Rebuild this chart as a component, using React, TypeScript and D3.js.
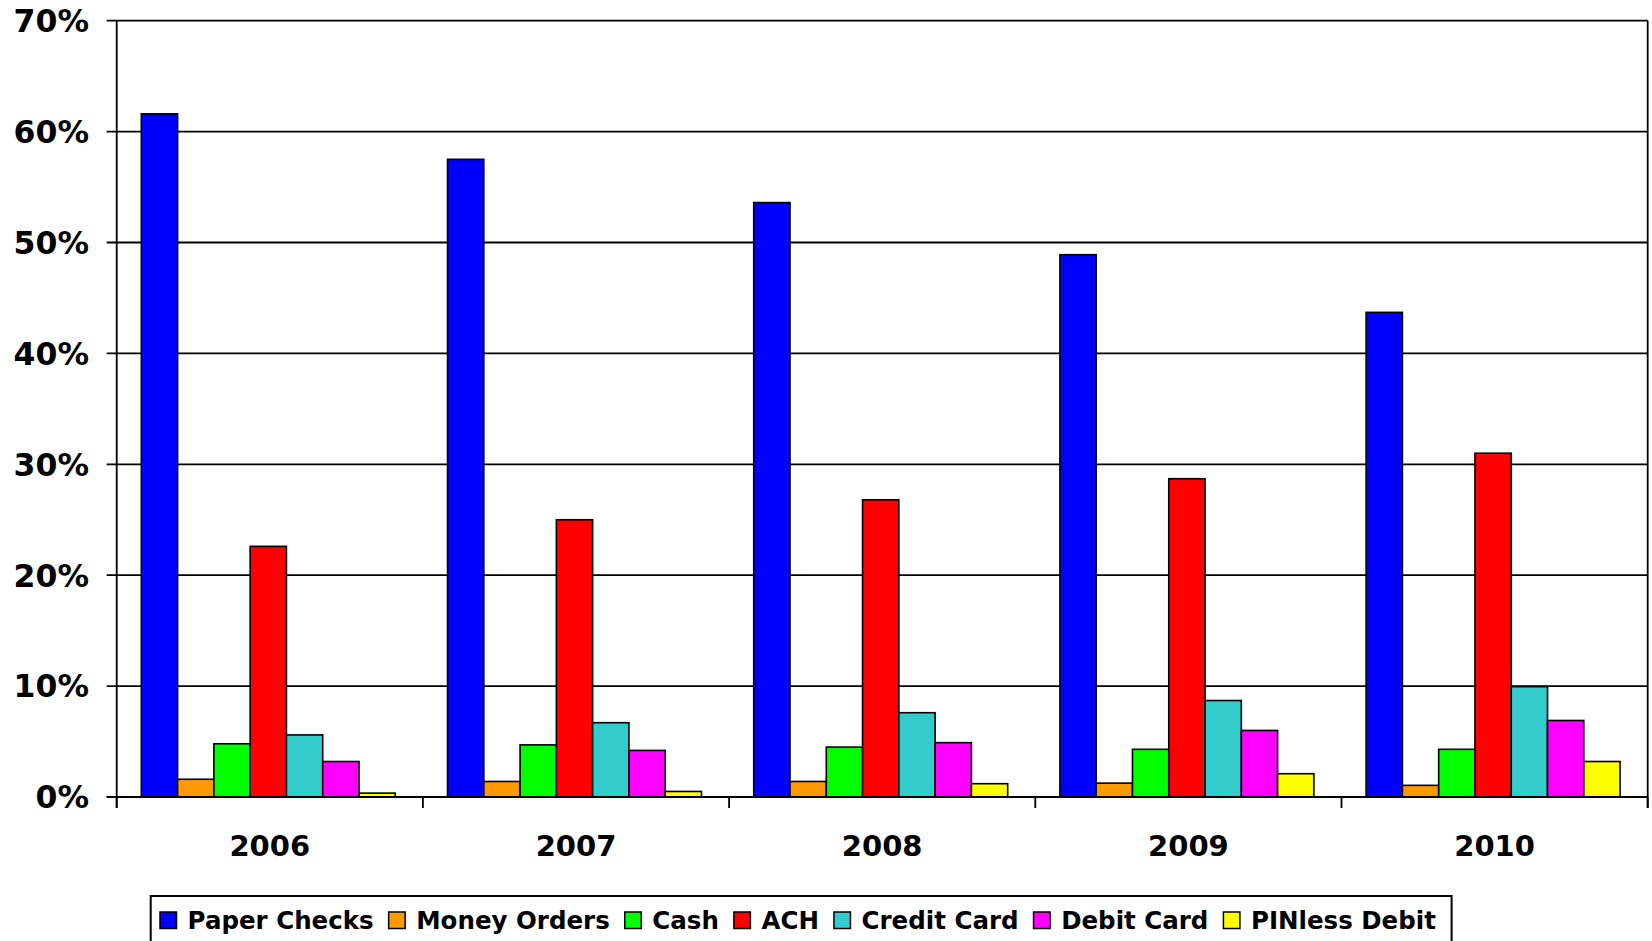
import React, { useEffect, useRef } from "react";
import * as d3 from "d3";

const years = ["2006", "2007", "2008", "2009", "2010"];
const seriesNames = ["Paper Checks", "Money Orders", "Cash", "ACH", "Credit Card", "Debit Card", "PINless Debit"];
const seriesColors = ["#0000FF", "#FF9900", "#00FF00", "#FF0000", "#33CCCC", "#FF00FF", "#FFFF00"];
const paperChecks = [61.6, 57.5, 53.6, 48.9, 43.7];
const moneyOrders = [1.6, 1.4, 1.4, 1.25, 1.05];
const cash = [4.8, 4.7, 4.5, 4.3, 4.3];
const ach = [22.6, 25.0, 26.8, 28.7, 31.0];
const creditCard = [5.6, 6.7, 7.6, 8.7, 9.95];
const debitCard = [3.2, 4.2, 4.9, 6.0, 6.9];
const pinlessDebit = [0.35, 0.5, 1.2, 2.1, 3.2];
const seriesValues = [paperChecks, moneyOrders, cash, ach, creditCard, debitCard, pinlessDebit];
const yTicks = [0, 10, 20, 30, 40, 50, 60, 70];

const W = 1652;
const H = 941;
const FONT = "'DejaVu Sans', Verdana, sans-serif";

export default function App() {
  const ref = useRef<SVGSVGElement>(null);

  useEffect(() => {
    const svg = d3.select(ref.current);
    svg.selectAll("*").remove();

    const left = 116.7, right = 1647.7, top = 20.7, bottom = 797;
    const x0 = d3.scaleBand<string>().domain(years).range([left, right]).paddingInner(0).paddingOuter(0);
    const x1 = d3.scaleBand<string>().domain(seriesNames).range([-1.5, x0.bandwidth() - 1.5]).paddingInner(0).paddingOuter(0.72);
    const y = d3.scaleLinear().domain([0, 70]).range([bottom, top]);

    const g = svg.append("g");
    g.selectAll("line.grid").data(yTicks).enter().append("line")
      .attr("x1", left - 10).attr("x2", right)
      .attr("y1", (d) => y(d)).attr("y2", (d) => y(d))
      .attr("stroke", "#000").attr("stroke-width", 1.8);

    g.append("line").attr("x1", right).attr("x2", right).attr("y1", top).attr("y2", bottom + 11)
      .attr("stroke", "#000").attr("stroke-width", 1.8);

    g.selectAll("text.ylab").data(yTicks).enter().append("text")
      .attr("x", 89).attr("y", (d) => y(d)).attr("dy", "0.36em")
      .attr("text-anchor", "end")
      .attr("font-family", FONT).attr("font-weight", "bold").attr("font-size", 31.5)
      .text((d) => `${d}%`);

    years.forEach((yr, i) => {
      const gg = svg.append("g").attr("transform", `translate(${x0(yr)},0)`);
      seriesNames.forEach((s, j) => {
        const v = seriesValues[j][i];
        gg.append("rect")
          .attr("x", x1(s)!).attr("width", x1.bandwidth())
          .attr("y", y(v)).attr("height", y(0) - y(v))
          .attr("fill", seriesColors[j])
          .attr("stroke", "#000").attr("stroke-width", 1.6);
      });
    });

    svg.append("line").attr("x1", left).attr("x2", left).attr("y1", top).attr("y2", bottom + 11)
      .attr("stroke", "#000").attr("stroke-width", 1.8);
    svg.append("line").attr("x1", left - 10).attr("x2", right).attr("y1", bottom).attr("y2", bottom)
      .attr("stroke", "#000").attr("stroke-width", 2);
    const boundaries = years.map((yr) => x0(yr)!).concat([right]);
    svg.selectAll("line.xt").data(boundaries).enter().append("line")
      .attr("x1", (d) => d).attr("x2", (d) => d).attr("y1", bottom).attr("y2", bottom + 11)
      .attr("stroke", "#000").attr("stroke-width", 1.8);
    svg.selectAll("text.xl").data(years).enter().append("text")
      .attr("x", (d) => x0(d)! + x0.bandwidth() / 2).attr("y", 856)
      .attr("text-anchor", "middle")
      .attr("font-family", FONT).attr("font-weight", "bold").attr("font-size", 29)
      .text((d) => d);

    const lg = svg.append("g");
    const box = lg.append("rect").attr("y", 896).attr("height", 80)
      .attr("fill", "#fff").attr("stroke", "#000").attr("stroke-width", 2);
    let cx = 160;
    seriesNames.forEach((s, j) => {
      lg.append("rect").attr("x", cx).attr("y", 912).attr("width", 16.5).attr("height", 16.5)
        .attr("fill", seriesColors[j]).attr("stroke", "#000").attr("stroke-width", 1.5);
      const t = lg.append("text").attr("x", cx + 27.6).attr("y", 928.5)
        .attr("font-family", FONT).attr("font-weight", "bold").attr("font-size", 24.5)
        .text(s);
      const w = (t.node() as SVGTextElement).getComputedTextLength();
      cx = cx + 27.6 + w + 15;
    });
    box.attr("x", 150.7).attr("width", cx - 15 + 15.7 - 150.7);
  }, []);

  return (
    <div style={{ position: "absolute", left: 0, top: 0, width: W, height: H, overflow: "hidden", background: "#fff" }}>
      <svg ref={ref} width={W} height={H} style={{ display: "block" }} />
    </div>
  );
}
